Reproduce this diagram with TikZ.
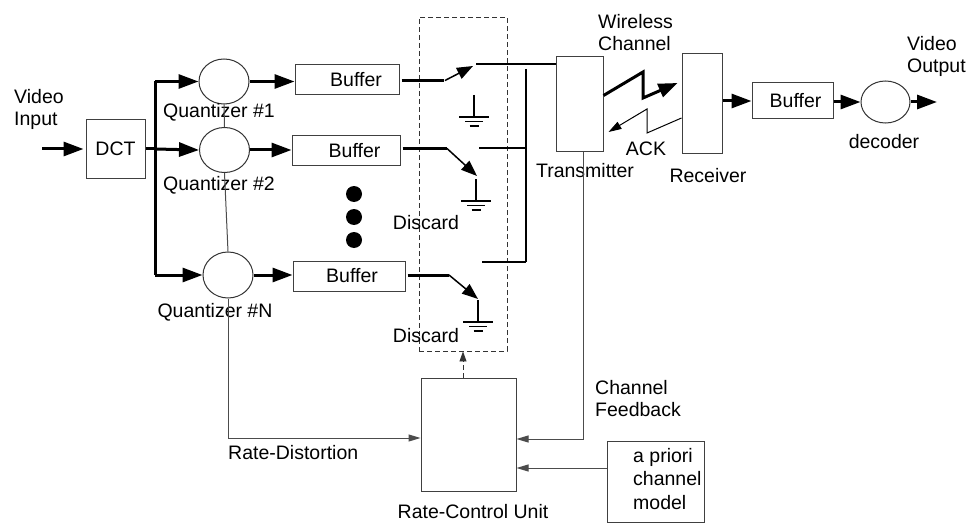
\documentclass[tikz,border=0pt]{standalone}
\usepackage{fontspec}
\setmainfont{Liberation Sans}
\usetikzlibrary{arrows.meta,shapes.geometric,calc}
\begin{document}
\begin{tikzpicture}[x=1pt,y=-1pt,
  font=\fontsize{19.5}{22}\selectfont,
  thinline/.style={draw=black!70, line width=1pt},
  wire/.style={draw=black, line width=1.3pt},
  box/.style={draw=black!75, line width=1pt, inner sep=0pt},
  qcirc/.style={ellipse, draw=black!80, line width=1pt, inner sep=0pt, minimum width=50pt, minimum height=45pt},
  bigarrow/.style={line width=3pt, -{Triangle[length=20pt,width=14pt]}},
  thickline/.style={line width=3pt},
  blade/.style={line width=1.5pt, -{Triangle[length=16pt,width=12pt]}},
  smallarrow/.style={draw=black!70, line width=1pt, -{Triangle[length=12pt,width=7pt]}},
  lbl/.style={inner sep=0pt},
  groundsym/.pic={
    \draw[line width=1.5pt] (0,0) -- (0,22) (-15,22) -- (15,22);
    \draw[line width=1.5pt] (-9,26.5) -- (9,26.5) (-4.5,31) -- (4.5,31);
  }
]
\useasboundingbox (0,0) rectangle (969,524);

% ---- nodes ----
\node[box, minimum width=59pt, minimum height=59pt] (dct) at (115.5,149) {DCT};
\node[qcirc] (q1) at (224,81.5) {};
\node[qcirc] (q2) at (224.5,150) {};
\node[qcirc, minimum height=46pt] (qN) at (228,275) {};
\node[box, minimum width=104pt, minimum height=30pt] (b1) at (347,80) {\hspace*{18pt}Buffer};
\node[box, minimum width=108pt, minimum height=29pt] (b2) at (346,150.5) {\hspace*{17pt}Buffer};
\node[box, minimum width=112pt, minimum height=30pt] (bN) at (349,276) {\hspace*{6pt}Buffer};
\node[circle, fill=black, inner sep=0pt, minimum size=16pt] (dot1) at (354,194) {};
\node[circle, fill=black, inner sep=0pt, minimum size=16pt] (dot2) at (354,217) {};
\node[circle, fill=black, inner sep=0pt, minimum size=16pt] (dot3) at (354,240) {};
\node[draw=black!80, line width=0.9pt, dash pattern=on 5pt off 3pt, inner sep=0pt,
      minimum width=88pt, minimum height=334pt] (sel) at (463,184) {};
\node[box, minimum width=47pt, minimum height=95pt] (tx) at (579.5,104.5) {};
\node[box, minimum width=40pt, minimum height=100pt] (rx) at (702,104) {};
\node[box, minimum width=81pt, minimum height=36pt] (b3) at (792.5,101) {\hspace*{6pt}Buffer};
\node[qcirc, minimum width=49pt, minimum height=42pt] (dec) at (885.5,102) {};
\node[box, minimum width=95pt, minimum height=113pt] (rc) at (468.5,434.5) {};
\node[box, minimum width=97pt, minimum height=81pt] (ap) at (655.5,481.5) {};

% ---- labels ----
\node[lbl, align=left, anchor=west] (lvin) at (14,109) {Video\\Input};
\node[lbl] (lq1) at (219,112) {Quantizer \#1};
\node[lbl] (lq2) at (219,185) {Quantizer \#2};
\node[lbl] (lqN) at (215,312) {Quantizer \#N};
\node[lbl] (ld1) at (426,223) {Discard};
\node[lbl] (ld2) at (426,336) {Discard};
\node[lbl, align=left, anchor=west] (lwc) at (598,33) {Wireless\\Channel};
\node[lbl] (ltx) at (585,171) {Transmitter};
\node[lbl] (lrx) at (708,176) {Receiver};
\node[lbl] (lack) at (646,149) {ACK};
\node[lbl] (ldec) at (884,142) {decoder};
\node[lbl, align=left, anchor=west] (lvout) at (907,56) {Video\\Output};
\node[lbl, anchor=west] (lrd) at (228,453) {Rate-Distortion};
\node[lbl, align=left, anchor=west] (lcf) at (595,399) {Channel\\Feedback};
\node[lbl] (lrc) at (473,512) {Rate-Control Unit};
\node[lbl, align=left, anchor=west, font=\fontsize{19.5}{23.5}\selectfont] (lap) at (633,479) {a priori\\channel\\model};

% ---- coordinates ----
\coordinate (vin) at (42,149);
\coordinate (bus1) at (155,81.5);
\coordinate (bus2) at (155,149);
\coordinate (busN) at (155,275);
\coordinate (vout) at (937,102);
% switches
\coordinate (p1) at (444,81);
\coordinate (t1) at (473,66);
\coordinate (c1) at (476,64);
\coordinate (g1) at (474,95);
\coordinate (p2) at (447,148.5);
\coordinate (t2) at (477,176);
\coordinate (c2) at (479,148);
\coordinate (g2) at (476,179);
\coordinate (pN) at (449,275);
\coordinate (tN) at (478,299);
\coordinate (cN) at (482,262);
\coordinate (gN) at (478,300);
\coordinate (col1) at (526,69);
\coordinate (col2) at (526,262);
\coordinate (rd) at (228,438);
\coordinate (cf) at (583,439);
\coordinate (apc) at (607,468);

% ---- input side ----
\draw[bigarrow, shorten >=2pt] (vin) -- (dct.west |- vin);
\draw[thickline] (dct.east |- bus2) -- (bus2);
\draw[thickline] (bus1) -- (busN);
\draw[bigarrow] (bus1) -- (q1.west);
\draw[bigarrow] (bus2) -- (q2.west);
\draw[bigarrow] (busN) -- (qN.west);
\draw[bigarrow] (q1.east) -- (b1.west |- q1.east);
\draw[bigarrow] (q2.east) -- (b2.west |- q2.east);
\draw[bigarrow] (qN.east) -- (bN.west |- qN.east);

% quantizer chain and rate-distortion
\draw[thinline] (q1.south) -- (q2.north);
\draw[thinline] (q2.south) -- (qN.north);
\draw[smallarrow] (qN.south) -- (rd) -- (rd -| rc.west);

% ---- switches ----
\draw[thickline, shorten <=2pt] (b1.east |- p1) -- (p1);
\draw[blade, shorten <=1pt] (p1) -- (t1);
\draw[wire] (c1) -- (c1 -| tx.west);
\pic at (g1) {groundsym};

\draw[thickline, shorten <=2pt] (b2.east |- p2) -- (p2);
\draw[blade] (p2) -- (t2);
\pic at (g2) {groundsym};

\draw[thickline, shorten <=2pt] (bN.east |- pN) -- (pN);
\draw[blade] (pN) -- (tN);
\pic at (gN) {groundsym};

\draw[wire] (col1) -- (col2);
\draw[wire] (c2) -- (c2 -| col1);
\draw[wire] (cN) -- (col2);

% ---- channel ----
\draw[line width=3pt, -{Triangle[length=19pt,width=14pt]}]
  ($(tx.east)+(0,-9)$) -- (643,72) -- (643,98) -- ($(rx.west)+(-4,-21)$);
\draw[draw=black, line width=1pt, -{Triangle[length=13pt,width=8pt]}]
  ($(rx.west)+(0,14)$) -- (647,133) -- (647,109) -- ($(tx.east)+(5,27.5)$);

% ---- output side ----
\draw[bigarrow] (rx.east |- b3.west) -- (b3.west);
\draw[bigarrow] (b3.east |- dec.west) -- (dec.west);
\draw[bigarrow] (dec.east) -- (vout);

% ---- control ----
\draw[draw=black!80, line width=0.9pt, dash pattern=on 5pt off 3pt, -{Triangle[length=10pt,width=7pt]}]
  (rc.north -| sel.south) -- (sel.south);
\draw[smallarrow] (tx.south -| cf) -- (cf) -- (cf -| rc.east);
\draw[smallarrow] (apc) -- (apc -| rc.east);
\end{tikzpicture}
\end{document}
